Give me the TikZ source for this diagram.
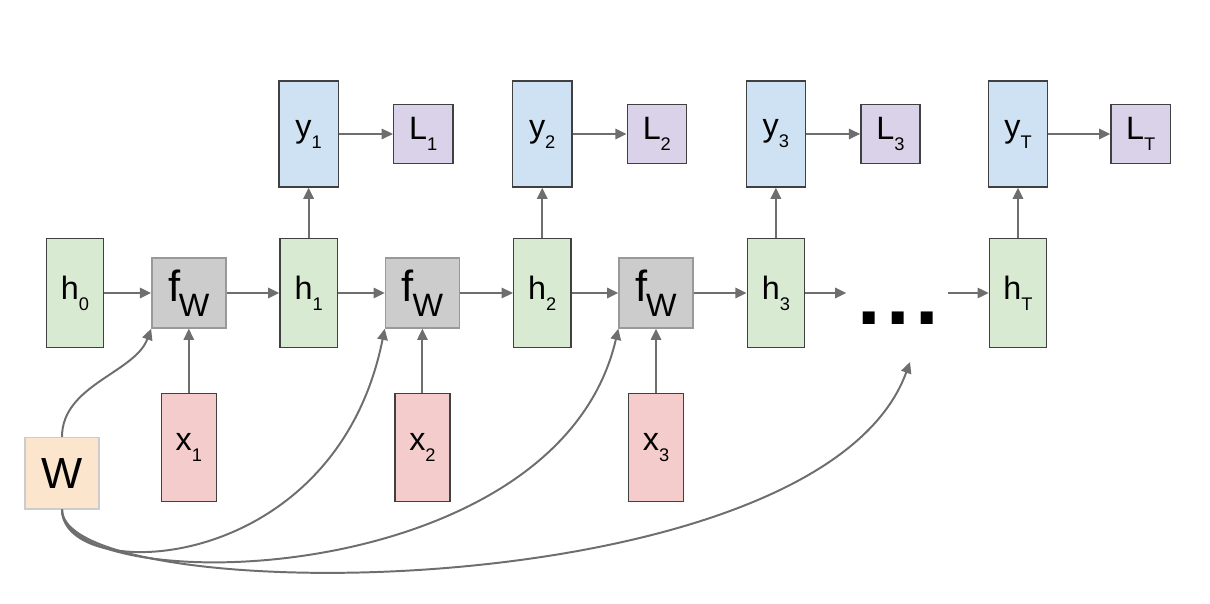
\documentclass[tikz,border=0pt]{standalone}
\usepackage{fontspec}
\setmainfont{Liberation Sans}
\usetikzlibrary{arrows.meta, positioning}

\definecolor{hgreen}{HTML}{D9EAD3}
\definecolor{ygrey}{HTML}{CCCCCC}
\definecolor{yblue}{HTML}{CFE2F3}
\definecolor{lpurple}{HTML}{D9D2E9}
\definecolor{xred}{HTML}{F4CCCC}
\definecolor{worange}{HTML}{FCE5CD}
\definecolor{arrowgrey}{HTML}{6E6E6E}

\newcommand{\sublbl}[2]{#1\raisebox{-0.34em}{\fontsize{13}{13}\selectfont #2}}

\begin{document}
\begin{tikzpicture}[
    node distance=1.27cm,
    box/.style={rectangle, draw=black!75, line width=1pt, inner sep=0pt, font=\fontsize{23}{26}\selectfont},
    hbox/.style={box, fill=hgreen, minimum width=1.43cm, minimum height=2.73cm},
    fbox/.style={box, draw=black!40, fill=ygrey, minimum width=1.85cm, minimum height=1.75cm},
    ybox/.style={box, fill=yblue, minimum width=1.48cm, minimum height=2.65cm},
    lbox/.style={box, fill=lpurple, minimum width=1.48cm, minimum height=1.48cm},
    xbox/.style={box, fill=xred, minimum width=1.38cm, minimum height=2.7cm},
    wbox/.style={box, draw=black!20, fill=worange, minimum width=1.85cm, minimum height=1.78cm, font=\fontsize{31}{34}\selectfont},
    arrow/.style={-{Triangle[length=0.28cm, width=0.26cm]}, line width=1.4pt, draw=arrowgrey}
]
    \useasboundingbox (0,0) rectangle (30.25,-15.1);

    % hidden state chain
    \node[hbox] (h0) at (1.875,-7.325) {\sublbl{h}{0}};
    \node[fbox, right=1.17cm of h0] (fW1) {\fontsize{31}{34}\selectfont f\kern-1pt\raisebox{-10.5pt}{\fontsize{23}{26}\selectfont W}};
    \node[hbox, right=1.32cm of fW1] (h1) {\sublbl{h}{1}};
    \node[fbox, right=1.17cm of h1] (fW2) {\fontsize{31}{34}\selectfont f\kern-1pt\raisebox{-10.5pt}{\fontsize{23}{26}\selectfont W}};
    \node[hbox, right=1.32cm of fW2] (h2) {\sublbl{h}{2}};
    \node[fbox, right=1.17cm of h2] (fW3) {\fontsize{31}{34}\selectfont f\kern-1pt\raisebox{-10.5pt}{\fontsize{23}{26}\selectfont W}};
    \node[hbox, right=1.32cm of fW3] (h3) {\sublbl{h}{3}};
    \node (dots) at (22.45,-7.95) {\fontsize{60}{60}\selectfont\bfseries .\kern4pt.\kern4pt.};
    \node[hbox] (hT) at (25.45,-7.325) {\sublbl{h}{T}};

    % outputs and losses
    \node[ybox, above=1.25cm of h1] (y1) {\sublbl{y}{1}};
    \node[ybox, above=1.25cm of h2] (y2) {\sublbl{y}{2}};
    \node[ybox, above=1.25cm of h3] (y3) {\sublbl{y}{3}};
    \node[ybox, above=1.25cm of hT] (yT) {\sublbl{y}{T}};
    \node[lbox, right=1.35cm of y1] (L1) {\sublbl{L}{1}};
    \node[lbox, right=1.35cm of y2] (L2) {\sublbl{L}{2}};
    \node[lbox, right=1.35cm of y3] (L3) {\sublbl{L}{3}};
    \node[lbox, right=1.55cm of yT] (LT) {\sublbl{L}{T}};

    % inputs and weights
    \node[xbox, below=1.6cm of fW1] (x1) {\sublbl{x}{1}};
    \node[xbox, below=1.6cm of fW2] (x2) {\sublbl{x}{2}};
    \node[xbox, below=1.6cm of fW3] (x3) {\sublbl{x}{3}};
    \node[wbox] (W) at (1.55,-11.83) {W};
    \coordinate (dotsin) at (22.75,-9.05);

    \draw[arrow] (h0) -- (fW1);
    \draw[arrow] (fW1) -- (h1);
    \draw[arrow] (h1) -- (fW2);
    \draw[arrow] (fW2) -- (h2);
    \draw[arrow] (h2) -- (fW3);
    \draw[arrow] (fW3) -- (h3);
    \draw[arrow] (h3.east) -- ++(1.03,0);
    \draw[arrow] (hT.west) ++(-1.03,0) -- (hT);

    \foreach \t in {1,2,3,T} {
        \draw[arrow] (h\t) -- (y\t);
        \draw[arrow] (y\t) -- (L\t);
    }
    \foreach \i in {1,2,3} {
        \draw[arrow] (x\i) -- (fW\i);
    }

    % shared weights
    \draw[arrow] (W.north) .. controls +(0,1.3) and +(-0.4,-1.1) .. (fW1.south west);
    \draw[arrow] (W.south) .. controls +(0,-1.88) and +(-1.25,-6.25) .. (fW2.south west);
    \draw[arrow] (W.south) .. controls +(0,-2.25) and +(-1.53,-6.63) .. (fW3.south west);
    \draw[arrow] (W.south) .. controls +(0,-2.5) and +(-2.25,-6.2) .. (dotsin);
\end{tikzpicture}
\end{document}
